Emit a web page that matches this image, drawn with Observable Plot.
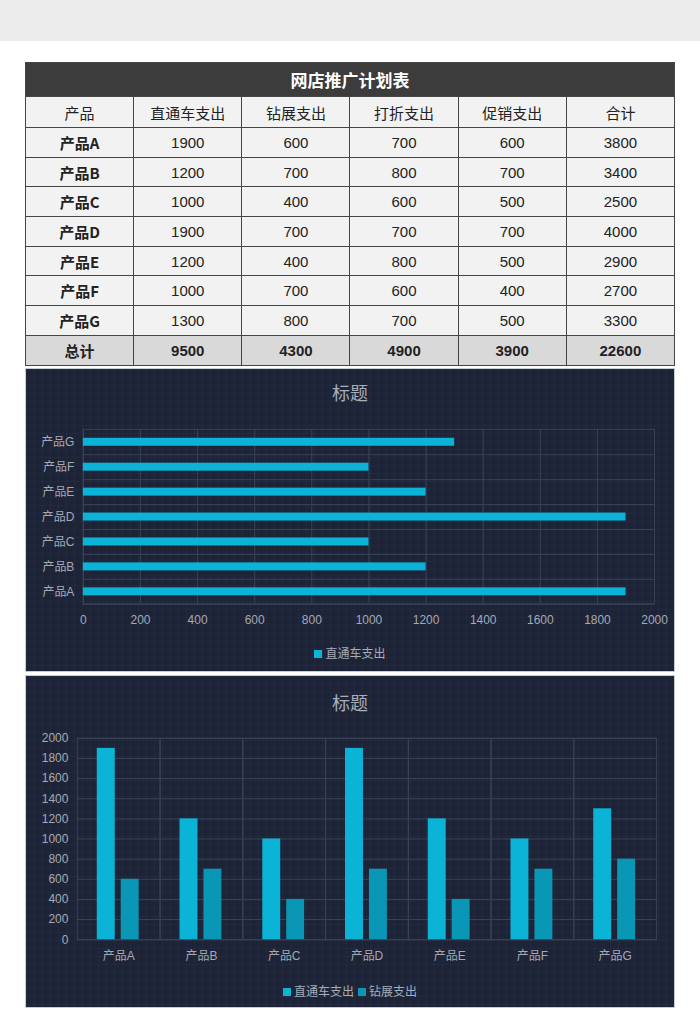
<!DOCTYPE html>
<html><head><meta charset="utf-8">
<script src="https://cdn.jsdelivr.net/npm/d3@7"></script>
<script src="https://cdn.jsdelivr.net/npm/@observablehq/plot@0.6"></script>
<style>
body{margin:0;width:700px;height:1030px;position:relative;background:#fff;font-family:"Noto Sans CJK SC",sans-serif;overflow:hidden}
#band{position:absolute;left:0;top:0;width:700px;height:41px;background:#ebebeb}
#tbl{position:absolute;left:25px;top:62px;width:650px;border-collapse:collapse;table-layout:fixed}
#tbl td{border:1.5px solid #454545;padding:0;text-align:center;font-size:15px;color:#222;background:#f2f2f2;font-family:"Liberation Sans",Arial,sans-serif}
#tbl td.cn{font-family:"Noto Sans CJK SC",sans-serif}
#tbl tr.title td{background:#3c3c3c;color:#fff;font-weight:bold;font-size:17px;height:33px;font-family:"Noto Sans CJK SC",sans-serif}
#tbl tr.head td{height:30px;font-family:"Noto Sans CJK SC",sans-serif;font-size:15px}
#tbl tr.row td{height:28.7px}
#tbl tr.total td{background:#d9d9d9;font-weight:bold;height:29px}
.panel{position:absolute;left:25px;width:650px;background-color:#1e2437;
 background-image:linear-gradient(rgba(255,255,255,0.025) 1px,transparent 1px),linear-gradient(90deg,rgba(255,255,255,0.025) 1px,transparent 1px);
 background-size:8px 8px;border:1px solid #c8ccd2;box-sizing:border-box}
.panel svg{position:absolute;left:0;top:0}
.ptitle{position:absolute;left:0;width:100%;text-align:center;color:#a7adb9;font-size:18px;line-height:20px}
.legend{position:absolute;left:0;width:100%;text-align:center;color:#a7adb9;font-size:12px;line-height:14px}
.legend span.sw{display:inline-block;width:8px;height:8px;margin-right:3px;vertical-align:0px}
.legend span.it{margin:0 2px}
</style></head>
<body>
<div id="band"></div>
<table id="tbl"></table>
<div class="panel" id="p1" style="top:368px;height:304px">
  <div class="ptitle" style="top:13px">标题</div>
  <div class="legend" id="lg1" style="top:277px"></div>
</div>
<div class="panel" id="p2" style="top:675px;height:333px">
  <div class="ptitle" style="top:16px">标题</div>
  <div class="legend" id="lg2" style="top:308px"></div>
</div>
<script>
// ---- data ----
const tableTitle = "网店推广计划表";
const columns = ["产品","直通车支出","钻展支出","打折支出","促销支出","合计"];
const products = ["产品A","产品B","产品C","产品D","产品E","产品F","产品G"];
const zhitongche = [1900,1200,1000,1900,1200,1000,1300];
const zuanzhan = [600,700,400,700,400,700,800];
const dazhe = [700,800,600,700,800,600,700];
const cuxiao = [600,700,500,700,500,400,500];
const heji = [3800,3400,2500,4000,2900,2700,3300];
const totalLabel = "总计";
const totals = [9500,4300,4900,3900,22600];
const chartTitle = "标题";
const seriesNames = ["直通车支出","钻展支出"];
const xTicks1 = [0,200,400,600,800,1000,1200,1400,1600,1800,2000];
const yTicks2 = [0,200,400,600,800,1000,1200,1400,1600,1800,2000];
const colors = ["#0bb4d7","#0a97b6"];
const gridColor = "#394257";
const textColor = "#a3a9b5";

// ---- table ----
const tbl = document.getElementById("tbl");
let html = `<tr class="title"><td colspan="6">${tableTitle}</td></tr>`;
html += `<tr class="head">${columns.map(c=>`<td>${c}</td>`).join("")}</tr>`;
products.forEach((p,i)=>{
  html += `<tr class="row"><td class="cn" style="font-weight:bold">${p}</td><td>${zhitongche[i]}</td><td>${zuanzhan[i]}</td><td>${dazhe[i]}</td><td>${cuxiao[i]}</td><td>${heji[i]}</td></tr>`;
});
html += `<tr class="total"><td class="cn">${totalLabel}</td>${totals.map(t=>`<td>${t}</td>`).join("")}</tr>`;
tbl.innerHTML = html;

const font = "'Liberation Sans','Noto Sans CJK SC',sans-serif";
const fmt = d => String(d);

// ---- chart 1: horizontal bars ----
const rows1 = products.map((p,i)=>({product:p, value:zhitongche[i]}));
const c1 = Plot.plot({
  width:650, height:304, marginTop:60, marginBottom:69, marginLeft:57, marginRight:20,
  style:{background:"transparent", color:textColor, fontSize:"12px", fontFamily:font},
  x:{domain:[0,2000], ticks:xTicks1, tickFormat:fmt, tickSize:0, tickPadding:12, label:null},
  y:{domain:[...products].reverse(), paddingInner:0.68, paddingOuter:0.34, tickSize:0, tickPadding:9, label:null},
  marks:[
    Plot.ruleX(xTicks1, {x:d=>d, stroke:gridColor}),
    Plot.ruleY(products, {y:d=>d, dy:12.5, stroke:gridColor}),
    Plot.frame({stroke:gridColor}),
    Plot.barX(rows1, {x:"value", y:"product", fill:colors[0]})
  ]
});
document.getElementById("p1").prepend(c1);
document.getElementById("lg1").innerHTML =
  `<span class="it"><span class="sw" style="background:${colors[0]}"></span>${seriesNames[0]}</span>`;

// ---- chart 2: grouped columns ----
const rows2 = products.flatMap((p,i)=>[
  {product:p, series:seriesNames[0], value:zhitongche[i]},
  {product:p, series:seriesNames[1], value:zuanzhan[i]}
]);
const c2 = Plot.plot({
  width:650, height:333, marginTop:62, marginBottom:69, marginLeft:50, marginRight:17,
  style:{background:"transparent", color:textColor, fontSize:"12px", fontFamily:font},
  fx:{domain:products, padding:0, label:null, tickSize:0, tickPadding:12, axis:"bottom"},
  x:{domain:seriesNames, paddingInner:0.24, paddingOuter:0.786, axis:null},
  y:{domain:[0,2000], ticks:yTicks2, tickFormat:fmt, tickSize:0, tickPadding:9, label:null},
  color:{domain:seriesNames, range:colors},
  marks:[
    Plot.ruleY(yTicks2, {y:d=>d, stroke:gridColor}),
    Plot.frame({stroke:gridColor}),
    Plot.barY(rows2, {fx:"product", x:"series", y:"value", fill:"series"})
  ]
});
document.getElementById("p2").prepend(c2);
document.getElementById("lg2").innerHTML = seriesNames.map((s,i)=>
  `<span class="it"><span class="sw" style="background:${colors[i]}"></span>${s}</span>`).join("");
</script>
</body></html>
